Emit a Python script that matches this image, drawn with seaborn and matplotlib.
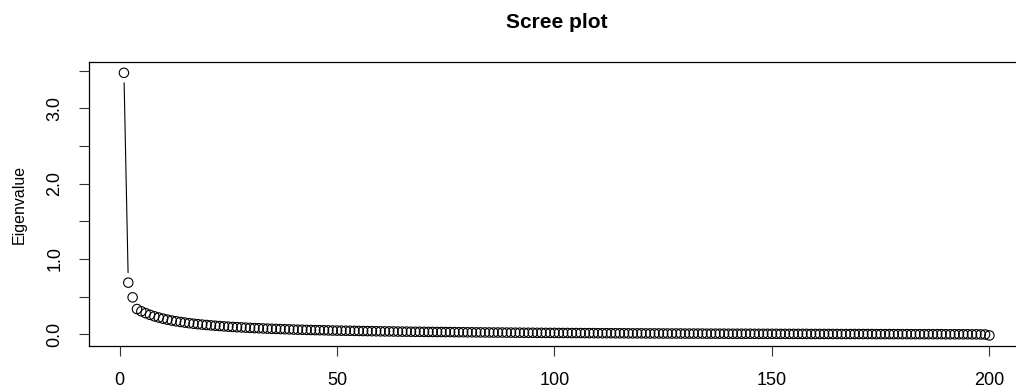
import numpy as np
import pandas as pd
import matplotlib
matplotlib.use("Agg")
import matplotlib.pyplot as plt
import seaborn as sns

# eigenvalues, component 1..200
eigen_1_50 = [
    3.470, 0.685, 0.490, 0.335, 0.305, 0.280, 0.258, 0.238, 0.222, 0.207,
    0.194, 0.182, 0.172, 0.163, 0.155, 0.147, 0.140, 0.134, 0.128, 0.123,
    0.118, 0.113, 0.109, 0.105, 0.101, 0.097, 0.094, 0.091, 0.088, 0.085,
    0.082, 0.080, 0.077, 0.075, 0.073, 0.071, 0.069, 0.067, 0.065, 0.063,
    0.061, 0.060, 0.058, 0.057, 0.055, 0.054, 0.053, 0.051, 0.050, 0.049,
]
eigen_51_100 = [
    0.048, 0.047, 0.046, 0.045, 0.044, 0.043, 0.042, 0.041, 0.040, 0.039,
    0.038, 0.038, 0.037, 0.036, 0.035, 0.035, 0.034, 0.033, 0.033, 0.032,
    0.031, 0.031, 0.030, 0.030, 0.029, 0.029, 0.028, 0.027, 0.027, 0.026,
    0.026, 0.025, 0.025, 0.024, 0.024, 0.023, 0.023, 0.023, 0.022, 0.022,
    0.021, 0.021, 0.020, 0.020, 0.020, 0.019, 0.019, 0.018, 0.018, 0.018,
]
eigen_101_150 = [
    0.017, 0.017, 0.017, 0.016, 0.016, 0.016, 0.015, 0.015, 0.015, 0.014,
    0.014, 0.014, 0.014, 0.013, 0.013, 0.013, 0.012, 0.012, 0.012, 0.012,
    0.011, 0.011, 0.011, 0.011, 0.010, 0.010, 0.010, 0.010, 0.010, 0.009,
    0.009, 0.009, 0.009, 0.009, 0.008, 0.008, 0.008, 0.008, 0.008, 0.007,
    0.007, 0.007, 0.007, 0.007, 0.007, 0.006, 0.006, 0.006, 0.006, 0.006,
]
eigen_151_200 = [
    0.006, 0.005, 0.005, 0.005, 0.005, 0.005, 0.005, 0.005, 0.004, 0.004,
    0.004, 0.004, 0.004, 0.004, 0.004, 0.003, 0.003, 0.003, 0.003, 0.003,
    0.003, 0.003, 0.003, 0.002, 0.002, 0.002, 0.002, 0.002, 0.002, 0.002,
    0.002, 0.001, 0.001, 0.001, 0.001, 0.001, 0.001, 0.001, 0.001, 0.000,
    0.000, 0.000, 0.000, 0.000, 0.000, -0.001, -0.001, -0.002, -0.003, -0.016,
]
eigen = eigen_1_50 + eigen_51_100 + eigen_101_150 + eigen_151_200
x_ticks = [0, 50, 100, 150, 200]
y_ticks = [0.0, 0.5, 1.0, 1.5, 2.0, 2.5, 3.0, 3.5]
y_labels = ["0.0", "", "1.0", "", "2.0", "", "3.0", ""]

df = pd.DataFrame({"Component": np.arange(1, len(eigen) + 1), "Eigenvalue": eigen})

sns.set_style("ticks")
plt.rcParams["font.family"] = ["Liberation Sans", "DejaVu Sans"]
plt.rcParams["text.color"] = "black"
plt.rcParams["axes.labelcolor"] = "black"
plt.rcParams["xtick.color"] = "black"
plt.rcParams["ytick.color"] = "black"

fig = plt.figure(figsize=(10.16, 3.87), dpi=100)
ax = fig.add_axes([0.0879, 0.106, 0.920, 0.733])

# R style limits (4% padding)
xr = df["Component"].max() - df["Component"].min()
yr = df["Eigenvalue"].max() - df["Eigenvalue"].min()
ax.set_xlim(df["Component"].min() - 0.04 * xr, df["Component"].max() + 0.04 * xr)
ax.set_ylim(df["Eigenvalue"].min() - 0.04 * yr, df["Eigenvalue"].max() + 0.04 * yr)

sns.scatterplot(data=df, x="Component", y="Eigenvalue", ax=ax, s=46,
                facecolor="none", edgecolor="black", linewidth=0.8, zorder=3)

# type="b": segments with gaps around the points
pts = ax.transData.transform(df[["Component", "Eigenvalue"]].to_numpy())
gap = 10
inv = ax.transData.inverted()
for a, b in zip(pts[:-1], pts[1:]):
    d = b - a
    L = np.hypot(*d)
    if L > 2 * gap:
        u = d / L
        seg = inv.transform(np.array([a + u * gap, b - u * gap]))
        ax.plot(seg[:, 0], seg[:, 1], color="black", lw=0.8)

ax.set_xticks(x_ticks)
ax.set_yticks(y_ticks)
ax.set_yticklabels(y_labels, rotation=90, va="center")
ax.tick_params(axis="both", length=7.5, width=0.8, labelsize=13,
               color="#333333", labelcolor="black")
ax.tick_params(axis="x", pad=11)
ax.tick_params(axis="y", pad=11)
for s in ax.spines.values():
    s.set_linewidth(0.9)
    s.set_color("black")
ax.set_xlabel("")
ax.set_ylabel("Eigenvalue", fontsize=11.5, labelpad=14, color="black")
ax.set_title("Scree plot", fontsize=15, fontweight="bold", pad=25, color="black")

fig.savefig("out.png", dpi=100)
